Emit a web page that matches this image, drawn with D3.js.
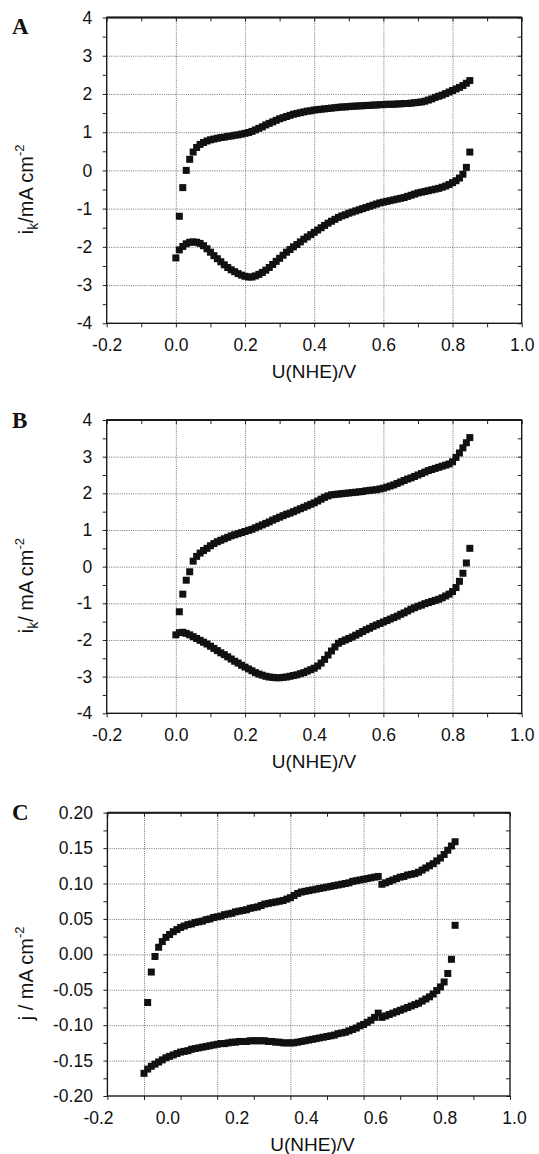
<!DOCTYPE html>
<html><head><meta charset="utf-8">
<script src="https://cdn.jsdelivr.net/npm/d3@7"></script>
<style>
body{margin:0;background:#fff;}
svg{display:block;background:#fff;}
text{font-family:"Liberation Sans",Arial,Helvetica,sans-serif;fill:#111;}
</style></head><body>
<svg id="chart" width="539" height="1154"></svg>
<script>
// ---------------- DATA ----------------
// electrode potential U(NHE)/V for the cathodic sweep (0.85 -> 0.00) and the anodic sweep (0.01 -> 0.85)
const potentialCathodic = [0.85,0.84,0.83,0.82,0.81,0.80,0.79,0.78,0.77,0.76,
  0.75,0.74,0.73,0.72,0.71,0.70,0.69,0.68,0.67,0.66,
  0.65,0.64,0.63,0.62,0.61,0.60,0.59,0.58,0.57,0.56,
  0.55,0.54,0.53,0.52,0.51,0.50,0.49,0.48,0.47,0.46,
  0.45,0.44,0.43,0.42,0.41,0.40,0.39,0.38,0.37,0.36,
  0.35,0.34,0.33,0.32,0.31,0.30,0.29,0.28,0.27,0.26,
  0.25,0.24,0.23,0.22,0.21,0.20,0.19,0.18,0.17,0.16,
  0.15,0.14,0.13,0.12,0.11,0.10,0.09,0.08,0.07,0.06,
  0.05,0.04,0.03,0.02,0.01,0.00];
const potentialAnodic = [0.01,0.02,0.03,0.04,0.05,0.06,0.07,0.08,0.09,0.10,
  0.11,0.12,0.13,0.14,0.15,0.16,0.17,0.18,0.19,0.20,
  0.21,0.22,0.23,0.24,0.25,0.26,0.27,0.28,0.29,0.30,
  0.31,0.32,0.33,0.34,0.35,0.36,0.37,0.38,0.39,0.40,
  0.41,0.42,0.43,0.44,0.45,0.46,0.47,0.48,0.49,0.50,
  0.51,0.52,0.53,0.54,0.55,0.56,0.57,0.58,0.59,0.60,
  0.61,0.62,0.63,0.64,0.65,0.66,0.67,0.68,0.69,0.70,
  0.71,0.72,0.73,0.74,0.75,0.76,0.77,0.78,0.79,0.80,
  0.81,0.82,0.83,0.84,0.85];

// Panel A  (i_k / mA cm^-2)
const iA_cathodic = [0.48,0.08,-0.10,-0.20,-0.27,-0.32,-0.37,-0.41,-0.44,-0.47,
  -0.49,-0.51,-0.53,-0.55,-0.57,-0.59,-0.62,-0.65,-0.68,-0.71,
  -0.73,-0.75,-0.77,-0.79,-0.81,-0.83,-0.85,-0.88,-0.91,-0.94,
  -0.97,-1.00,-1.03,-1.06,-1.09,-1.12,-1.16,-1.19,-1.23,-1.28,
  -1.33,-1.38,-1.44,-1.50,-1.56,-1.62,-1.68,-1.74,-1.80,-1.87,
  -1.94,-2.00,-2.07,-2.14,-2.22,-2.30,-2.38,-2.46,-2.54,-2.61,
  -2.67,-2.72,-2.76,-2.79,-2.79,-2.77,-2.74,-2.70,-2.65,-2.60,
  -2.54,-2.47,-2.39,-2.31,-2.23,-2.14,-2.05,-1.97,-1.91,-1.88,
  -1.87,-1.88,-1.92,-1.99,-2.08,-2.29];
const iA_anodic = [-1.20,-0.45,0.00,0.29,0.48,0.60,0.68,0.73,0.77,0.80,
  0.82,0.84,0.86,0.87,0.89,0.90,0.92,0.93,0.95,0.97,
  0.99,1.02,1.06,1.10,1.14,1.19,1.23,1.27,1.31,1.35,
  1.38,1.41,1.44,1.47,1.49,1.51,1.53,1.55,1.56,1.58,
  1.59,1.60,1.61,1.62,1.63,1.64,1.65,1.66,1.66,1.67,
  1.68,1.68,1.69,1.69,1.70,1.70,1.71,1.71,1.72,1.72,
  1.73,1.73,1.73,1.74,1.74,1.75,1.75,1.76,1.77,1.78,
  1.79,1.81,1.84,1.87,1.91,1.94,1.97,2.01,2.05,2.09,
  2.13,2.17,2.22,2.28,2.35];

// Panel B  (i_k / mA cm^-2)
const iB_cathodic = [0.50,0.10,-0.18,-0.40,-0.57,-0.68,-0.75,-0.80,-0.85,-0.89,
  -0.92,-0.95,-0.98,-1.01,-1.05,-1.08,-1.12,-1.16,-1.21,-1.26,
  -1.30,-1.35,-1.39,-1.43,-1.47,-1.51,-1.55,-1.59,-1.63,-1.68,
  -1.72,-1.77,-1.82,-1.87,-1.92,-1.96,-2.00,-2.04,-2.09,-2.19,
  -2.30,-2.41,-2.53,-2.63,-2.71,-2.77,-2.81,-2.85,-2.89,-2.92,
  -2.95,-2.97,-2.99,-3.01,-3.02,-3.03,-3.03,-3.02,-3.01,-2.99,
  -2.96,-2.93,-2.89,-2.84,-2.79,-2.74,-2.69,-2.63,-2.58,-2.52,
  -2.46,-2.40,-2.35,-2.29,-2.23,-2.17,-2.11,-2.06,-2.01,-1.96,
  -1.91,-1.86,-1.82,-1.79,-1.80,-1.86];
const iB_anodic = [-1.23,-0.75,-0.37,-0.14,0.15,0.28,0.37,0.44,0.50,0.57,
  0.63,0.68,0.72,0.76,0.80,0.84,0.87,0.90,0.93,0.96,
  0.99,1.02,1.06,1.10,1.14,1.18,1.22,1.27,1.31,1.35,
  1.39,1.43,1.46,1.50,1.54,1.58,1.62,1.66,1.70,1.74,
  1.79,1.84,1.89,1.93,1.96,1.97,1.98,1.99,2.00,2.01,
  2.02,2.03,2.04,2.05,2.07,2.08,2.09,2.10,2.12,2.14,
  2.17,2.20,2.23,2.27,2.31,2.35,2.39,2.42,2.46,2.50,
  2.54,2.58,2.62,2.65,2.68,2.71,2.74,2.77,2.80,2.86,
  2.98,3.10,3.24,3.38,3.52];

// Panel C  (j / mA cm^-2)
const jC_cathodic = [0.041,-0.007,-0.027,-0.039,-0.046,-0.051,-0.056,-0.060,-0.063,-0.066,
  -0.069,-0.071,-0.073,-0.075,-0.077,-0.079,-0.081,-0.083,-0.085,-0.087,
  -0.089,-0.083,-0.089,-0.093,-0.096,-0.099,-0.101,-0.104,-0.106,-0.108,
  -0.110,-0.111,-0.112,-0.114,-0.115,-0.116,-0.117,-0.118,-0.119,-0.120,
  -0.121,-0.122,-0.123,-0.124,-0.125,-0.125,-0.125,-0.125,-0.124,-0.124,
  -0.123,-0.123,-0.122,-0.122,-0.122,-0.122,-0.122,-0.123,-0.123,-0.123,
  -0.124,-0.124,-0.125,-0.126,-0.126,-0.127,-0.128,-0.129,-0.130,-0.131,
  -0.132,-0.133,-0.134,-0.136,-0.137,-0.138,-0.140,-0.142,-0.144,-0.146,
  -0.149,-0.152,-0.155,-0.158,-0.162,-0.168];
const jC_anodic = [-0.068,-0.025,-0.003,0.010,0.018,0.024,0.028,0.032,0.035,0.038,
  0.040,0.042,0.043,0.045,0.046,0.047,0.049,0.050,0.052,0.053,
  0.054,0.056,0.057,0.058,0.060,0.061,0.062,0.063,0.065,0.066,
  0.067,0.069,0.071,0.072,0.073,0.074,0.075,0.076,0.078,0.080,
  0.083,0.086,0.088,0.089,0.090,0.091,0.092,0.093,0.094,0.095,
  0.096,0.097,0.098,0.099,0.100,0.101,0.103,0.104,0.105,0.106,
  0.107,0.108,0.109,0.110,0.099,0.101,0.103,0.105,0.107,0.109,
  0.110,0.112,0.113,0.114,0.116,0.119,0.122,0.125,0.128,0.132,
  0.136,0.141,0.147,0.153,0.159];

// Tick values
const xTickLabels = [-0.2,0.0,0.2,0.4,0.6,0.8,1.0];
const xGridValues = [0.0,0.2,0.4,0.6,0.8];
const xMinorAB = [-0.2,-0.1,0.0,0.1,0.2,0.3,0.4,0.5,0.6,0.7,0.8,0.9,1.0];
const xMinorC = [-0.1,0.0,0.1,0.2,0.3,0.4,0.5,0.6,0.7,0.8,0.9,1.0];
const yTicksAB = [-4,-3,-2,-1,0,1,2,3,4];
const yGridAB = [-3,-2,-1,0,1,2,3];
const yMinorAB = [-4,-3.5,-3,-2.5,-2,-1.5,-1,-0.5,0,0.5,1,1.5,2,2.5,3,3.5,4];
const yTicksC = [-0.20,-0.15,-0.10,-0.05,0.00,0.05,0.10,0.15,0.20];
const yGridC = [-0.15,-0.10,-0.05,0.00,0.05,0.10,0.15];
const yMinorC = [-0.200,-0.175,-0.150,-0.125,-0.100,-0.075,-0.050,-0.025,0.000,0.025,0.050,0.075,0.100,0.125,0.150,0.175,0.200];

// ---------------- LAYOUT ----------------
const panels = [
  {letter:"A", letterY:34, x0:106.7, x1:521.7, y0:17.5, y1:323.3, xDomain:[-0.2,1.0], labelRange:[106.7,521.7],
   yDomain:[-4,4], yTicks:yTicksAB, yGrid:yGridAB, yMinor:yMinorAB, xMinor:xMinorAB, yFmt:d=>String(d),
   cath:iA_cathodic, anod:iA_anodic, titleX:314, ytitle:["i","k","/mA cm","-2"]},
  {letter:"B", letterY:428, x0:106.7, x1:521.7, y0:420, y1:713.3, xDomain:[-0.2,1.0], labelRange:[106.7,521.7],
   yDomain:[-4,4], yTicks:yTicksAB, yGrid:yGridAB, yMinor:yMinorAB, xMinor:xMinorAB, yFmt:d=>String(d),
   cath:iB_cathodic, anod:iB_anodic, titleX:314, ytitle:["i","k","/ mA cm","-2"]},
  {letter:"C", letterY:820, x0:107.4, x1:510, y0:812.7, y1:1096, xDomain:[-0.1,1.0], labelRange:[98,514],
   yDomain:[-0.2,0.2], yTicks:yTicksC, yGrid:yGridC, yMinor:yMinorC, xMinor:xMinorC, yFmt:d=>d.toFixed(2),
   cath:jC_cathodic, anod:jC_anodic, titleX:312.5, ytitle:["j / mA cm",null,"","-2"]}
];

const svg = d3.select("#chart");
svg.append("rect").attr("width",539).attr("height",1154).attr("fill","#fff");

function styleTicks(sel){
  sel.select(".domain").remove();
  sel.selectAll(".tick line").attr("stroke","#222").attr("stroke-width",1);
}

panels.forEach(p=>{
  const g = svg.append("g");
  const x = d3.scaleLinear().domain(p.xDomain).range([p.x0,p.x1]);
  const xl = d3.scaleLinear().domain([-0.2,1.0]).range(p.labelRange);
  const y = d3.scaleLinear().domain(p.yDomain).range([p.y1,p.y0]);
  const w = p.x1-p.x0, h = p.y1-p.y0;

  // grid
  const gx = g.append("g").attr("transform",`translate(0,${p.y1})`)
    .call(d3.axisBottom(x).tickValues(xGridValues).tickSize(-h).tickFormat(""));
  const gy = g.append("g").attr("transform",`translate(${p.x0},0)`)
    .call(d3.axisLeft(y).tickValues(p.yGrid).tickSize(-w).tickFormat(""));
  [gx,gy].forEach(s=>{
    s.select(".domain").remove();
    s.selectAll(".tick line").attr("stroke","#666").attr("stroke-width",0.9).attr("stroke-dasharray","1,1.2");
  });

  // data squares
  const pts = potentialCathodic.map((u,i)=>[u,p.cath[i]])
     .concat(potentialAnodic.map((u,i)=>[u,p.anod[i]]));
  const s = 7;
  g.append("g").selectAll("rect").data(pts).join("rect")
    .attr("x",d=>x(d[0])-s/2).attr("y",d=>y(d[1])-s/2)
    .attr("width",s).attr("height",s).attr("fill","#111");

  // ticks on all four sides
  styleTicks(g.append("g").attr("transform",`translate(0,${p.y1})`)
    .call(d3.axisBottom(x).tickValues(p.xMinor).tickSize(4).tickFormat("")));
  styleTicks(g.append("g").attr("transform",`translate(0,${p.y0})`)
    .call(d3.axisTop(x).tickValues(p.xMinor).tickSize(-4).tickFormat("")));
  styleTicks(g.append("g").attr("transform",`translate(${p.x0},0)`)
    .call(d3.axisLeft(y).tickValues(p.yMinor).tickSize(4).tickFormat("")));
  styleTicks(g.append("g").attr("transform",`translate(${p.x1},0)`)
    .call(d3.axisRight(y).tickValues(p.yMinor).tickSize(-4).tickFormat("")));

  // frame
  g.append("rect").attr("x",p.x0).attr("y",p.y0).attr("width",w).attr("height",h)
    .attr("fill","none").attr("stroke","#1a1a1a").attr("stroke-width",1.4);
  g.append("line").attr("x1",p.x0).attr("x2",p.x1).attr("y1",p.y0).attr("y2",p.y0)
    .attr("stroke","#1a1a1a").attr("stroke-width",2);

  // tick labels
  const lx = g.append("g").attr("transform",`translate(0,${p.y1})`)
    .call(d3.axisBottom(xl).tickValues(xTickLabels).tickSize(0).tickPadding(15.5).tickFormat(d=>d.toFixed(1)));
  lx.select(".domain").remove();
  lx.selectAll("text").attr("font-size",17.5).attr("font-family",null).attr("fill","#111");
  const ly = g.append("g").attr("transform",`translate(${p.x0},0)`)
    .call(d3.axisLeft(y).tickValues(p.yTicks).tickSize(0).tickPadding(14.5).tickFormat(p.yFmt));
  ly.select(".domain").remove();
  ly.selectAll("text").attr("font-size",17.5).attr("font-family",null).attr("fill","#111");

  // x title
  g.append("text").attr("x",p.titleX).attr("y",p.y1+55).attr("text-anchor","middle")
    .attr("font-size",19).text("U(NHE)/V");

  // y title (rotated)
  const t = g.append("text").attr("text-anchor","middle").attr("font-size",20)
    .attr("transform",`translate(33,${(p.y0+p.y1)/2+19}) rotate(-90)`);
  const [a,sub,b,sup] = p.ytitle;
  t.append("tspan").text(a);
  if(sub){
    t.append("tspan").attr("font-size",14).attr("dy",5).text(sub);
    t.append("tspan").attr("dy",-5).text(b);
  }
  t.append("tspan").attr("font-size",13).attr("dy",-9).text(sup);

  // panel letter
  g.append("text").attr("x",12).attr("y",p.letterY)
    .style("font-family",'"Liberation Serif","Times New Roman",serif')
    .attr("font-weight","bold").attr("font-size",23).text(p.letter);
});
</script>
</body></html>
